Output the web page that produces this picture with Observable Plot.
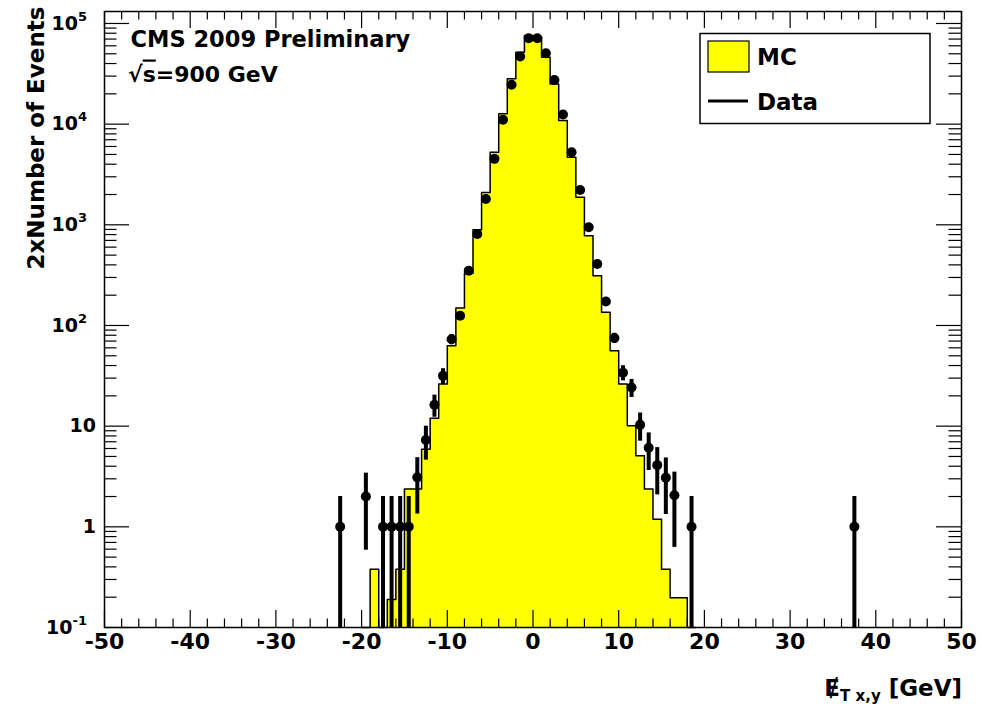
<!DOCTYPE html>
<html><head><meta charset="utf-8">
<script src="https://cdn.jsdelivr.net/npm/d3@7"></script>
<script src="https://cdn.jsdelivr.net/npm/@observablehq/plot@0.6"></script>
<style>
html,body{margin:0;padding:0;background:#fff;}
#chart svg{display:block;}
</style></head><body><div id="chart"></div>
<script>
// ---- Data ----
// Data: bin centres [GeV] and 2 x number of events
const dataX = [-22.5,-19.5,-17.5,-16.5,-15.5,-14.5,-13.5,-12.5,-11.5,-10.5,-9.5,-8.5,-7.5,-6.5,-5.5,-4.5,-3.5,-2.5,-1.5,-0.5,0.5,1.5,2.5,3.5,4.5,5.5,6.5,7.5,8.5,9.5,10.5,11.5,12.5,13.5,14.5,15.5,16.5,18.5,37.5];
const dataY = [1,2,1,1,1,1,3.1,7.3,16.3,31.6,73,125,350,811,1807,4520,11040,24600,47000,71400,71400,50700,27500,12450,5250,2220,944,408,173,75,34,24.2,10.3,6.1,4.1,3.08,2.06,1,1];
// MC histogram: lower bin edges (1 GeV bins) and contents
const mcLow = [-20,-19,-18,-17,-16,-15,-14,-13,-12,-11,-10,-9,-8,-7,-6,-5,-4,-3,-2,-1,0,1,2,3,4,5,6,7,8,9,10,11,12,13,14,15,16,17,18];
const mcVal = [0,0.38,0,0.19,0.38,2.37,2.37,5.9,12,26.2,63,149,330,895,2100,5250,12650,28200,51900,76000,74000,46300,25100,10900,4690,1875,780,312,135,56,26.2,10.1,5.07,2.37,1.19,0.38,0.198,0.198,0];
const binWidth = 1;
// Axis ticks and labels
const xMajor = [-50,-40,-30,-20,-10,0,10,20,30,40,50];
const xMinor = d3.range(-48, 50, 2).filter(v => v % 10 !== 0);
const yMajor = [0.1,1,10,100,1000,10000,100000];
const yMinor = [0.1,1,10,100,1000,10000].flatMap(d => [2,3,4,5,6,7,8,9].map(k => k * d));
const yTickBase = ["10","1","10","10","10","10","10"];
const yTickExp  = ["-1","","","2","3","4","5"];
const legendLabels = ["MC", "Data"];

// ---- Layout ----
const W = 982, H = 704;
const mL = 104, mR = 21, mT = 11, mB = 77;
const frameW = W - mL - mR, frameH = H - mT - mB;
const yMin = 0.1, yMax = 1.315e5;

const data = dataX.map((x, i) => ({
  x, y: dataY[i],
  lo: Math.max(yMin, dataY[i] - Math.sqrt(dataY[i])),
  hi: dataY[i] + Math.sqrt(dataY[i])
}));
const mcSteps = mcLow.map((lo, i) => ({x: lo, y: Math.max(yMin, mcVal[i])}));
mcSteps.push({x: mcLow[mcLow.length - 1] + binWidth, y: yMin});

const tk = {stroke: "black", strokeWidth: 1.2};
const chart = Plot.plot({
  width: W, height: H,
  marginLeft: mL, marginRight: mR, marginTop: mT, marginBottom: mB,
  x: {domain: [-50, 50], axis: null},
  y: {type: "log", domain: [yMin, yMax], axis: null},
  style: {fontFamily: "'DejaVu Sans', 'Liberation Sans', sans-serif", fontWeight: "bold", fontSize: "22px", background: "#ffffff", color: "black"},
  marks: [
    Plot.areaY(mcSteps, {x: "x", y1: yMin, y2: "y", curve: "step-after", fill: "#ffff00"}),
    Plot.line(mcSteps, {x: "x", y: "y", curve: "step-after", stroke: "black", strokeWidth: 1.5}),
    Plot.tickX(xMinor, {x: d => d, insetTop: frameH - 8.5, ...tk}),
    Plot.tickX(xMinor, {x: d => d, insetBottom: frameH - 8.5, ...tk}),
    Plot.tickX(xMajor, {x: d => d, insetTop: frameH - 17, ...tk}),
    Plot.tickX(xMajor, {x: d => d, insetBottom: frameH - 17, ...tk}),
    Plot.tickY(yMinor, {y: d => d, insetRight: frameW - 12.5, ...tk}),
    Plot.tickY(yMinor, {y: d => d, insetLeft: frameW - 12.5, ...tk}),
    Plot.tickY(yMajor, {y: d => d, insetRight: frameW - 25, ...tk}),
    Plot.tickY(yMajor, {y: d => d, insetLeft: frameW - 25, ...tk}),
    Plot.ruleX(data, {x: "x", y1: "lo", y2: "hi", stroke: "black", strokeWidth: 4}),
    Plot.dot(data, {x: "x", y: "y", r: 5, fill: "black", stroke: "none"}),
    Plot.frame({stroke: "black", strokeWidth: 1.5}),
    Plot.text(xMajor, {x: d => d, text: d => String(d), frameAnchor: "bottom", dy: 14, fontSize: 22, lineAnchor: "middle", fill: "black"}),
    Plot.text(["CMS 2009 Preliminary"], {frameAnchor: "top-left", dx: 26, dy: 35.5, text: d => d, textAnchor: "start", lineAnchor: "bottom", fontSize: 22.5, fill: "black"}),
    Plot.text(["2xNumber of Events"], {frameAnchor: "top-left", dx: 43 - mL, dy: 6 - mT, rotate: -90, text: d => d, textAnchor: "end", lineAnchor: "bottom", fontSize: 23, fill: "black"})
  ]
});
document.getElementById("chart").appendChild(chart);

// ---- Rich text (superscripts, subscripts) and legend ----
const svg = d3.select(chart);
const ys = chart.scale("y");
const g = svg.append("g").attr("fill", "black").attr("font-weight", "bold");
yMajor.forEach((v, i) => {
  const exp = yTickExp[i];
  const t = g.append("text")
    .attr("x", exp ? 87 : 96)
    .attr("y", ys.apply(v))
    .attr("text-anchor", "end")
    .attr("font-size", 19);
  t.append("tspan").attr("dy", "0.36em").text(yTickBase[i]);
  if (exp) t.append("tspan").attr("dy", -9).attr("font-size", 13).text(exp);
});

// sqrt(s) = 900 GeV
const s = g.append("text").attr("x", 128).attr("y", 81.5).attr("font-size", 22).attr("text-anchor", "start");
s.append("tspan").text("√");
s.append("tspan").style("text-decoration", "overline").text("s");
s.append("tspan").text("=900 GeV");

// x-axis title: missing E_T x,y [GeV]
const xt = g.append("text").attr("x", 962).attr("y", 696).attr("text-anchor", "end").attr("font-size", 23);
xt.append("tspan").text("Ɇ");
xt.append("tspan").attr("dy", 5).attr("font-size", 15).text("T x,y");
xt.append("tspan").attr("dy", -5).text(" [GeV]");

// legend
const lg = svg.append("g");
lg.append("rect").attr("x", 700).attr("y", 33.5).attr("width", 230).attr("height", 90)
  .attr("fill", "white").attr("stroke", "black").attr("stroke-width", 1.5);
lg.append("rect").attr("x", 708).attr("y", 41).attr("width", 41).attr("height", 31)
  .attr("fill", "#ffff00").attr("stroke", "black").attr("stroke-width", 1.2);
lg.append("line").attr("x1", 708).attr("x2", 748).attr("y1", 101).attr("y2", 101)
  .attr("stroke", "black").attr("stroke-width", 3);
lg.append("text").attr("x", 757).attr("y", 65).attr("font-size", 23).attr("font-weight", "bold").attr("text-anchor", "start").text(legendLabels[0]);
lg.append("text").attr("x", 757).attr("y", 109.5).attr("font-size", 23).attr("font-weight", "bold").attr("text-anchor", "start").text(legendLabels[1]);
</script></body></html>
